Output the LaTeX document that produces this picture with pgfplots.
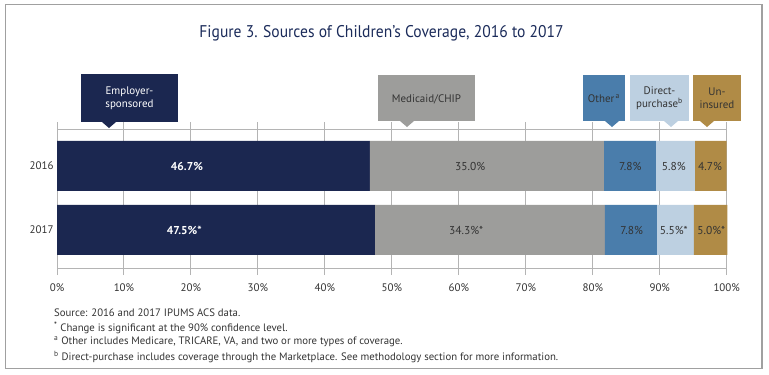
\documentclass[border=0pt]{standalone}
\usepackage{pgfplots}
\pgfplotsset{compat=1.18}
\usepackage{fontspec}
\setmainfont{PT Sans}
\usepackage{graphicx}
\definecolor{emp}{HTML}{1B2750}
\definecolor{med}{HTML}{9D9D9B}
\definecolor{oth}{HTML}{4A7DAB}
\definecolor{dir}{HTML}{BDD0E1}
\definecolor{unins}{HTML}{B08B46}
\definecolor{ttl}{HTML}{1B2B5A}
\definecolor{txt}{HTML}{333333}
\definecolor{gridc}{HTML}{B4B4B4}
\definecolor{framec}{HTML}{A0A0A0}
\pgfplotsset{
  seg/.style={xbar stacked, bar width=50bp, fill=#1, draw=none},
  lbl/.style={only marks, mark=none, nodes near coords, point meta=explicit symbolic,
  every node near coord/.style={anchor=center, text=#1, font=\fontsize{11.5}{13}\selectfont}}}
\begin{document}
\begin{tikzpicture}[x=1bp,y=1bp]
% page and frame
\path (0,0) rectangle (769,374);
\draw[framec, line width=1.2bp] (5.5,369.5) rectangle (762,5.5);
% title
\node[text=ttl, font=\fontsize{17}{20}\selectfont] at (381.5,341) {\scalebox{0.92}[1]{Figure 3. Sources of Children’s Coverage, 2016 to 2017}};
\begin{axis}[
  at={(57bp,106bp)}, anchor=south west,
  scale only axis, width=669.7bp, height=139bp,
  xmin=0, xmax=100, ymin=-0.578, ymax=1.594, y dir=reverse,
  ytick={0,1}, yticklabels={2016,2017},
  xtick={0,10,...,100},
  xticklabel={\pgfmathprintnumber{\tick}\%},
  /pgf/number format/assume math mode=true,
  xmajorgrids, major grid style={gridc, line width=1bp},
  axis line style={gridc, line width=1bp},
  xtick align=outside, major tick length=7bp,
  xtick style={gridc, line width=1bp},
  ytick style={draw=none},
  tick label style={font=\fontsize{11}{13}\selectfont, text=txt},
  xticklabel style={yshift=-5bp},
  clip=false,
]
\addplot[seg=emp] coordinates {(46.7,0) (47.5,1)};
\addplot[seg=med] coordinates {(35.0,0) (34.3,1)};
\addplot[seg=oth] coordinates {(7.8,0) (7.8,1)};
\addplot[seg=dir] coordinates {(5.8,0) (5.5,1)};
\addplot[seg=unins] coordinates {(4.7,0) (5.0,1)};
% value labels
\addplot[lbl=white, every node near coord/.append style={font=\fontsize{11.5}{13}\selectfont\bfseries}] coordinates {(19.4,0) [46.7\%] (19.0,1) [47.5\%*]};
\addplot[lbl=txt] coordinates {(61.7,0) [35.0\%] (61.1,1) [34.3\%*]};
\addplot[lbl=txt] coordinates {(85.6,0) [7.8\%] (85.8,1) [7.8\%]};
\addplot[lbl=txt] coordinates {(92.1,0) [5.8\%] (92.1,1) [5.5\%*]};
\addplot[lbl=txt] coordinates {(97.5,0) [4.7\%] (97.7,1) [5.0\%*]};
\end{axis}
% callout boxes
\fill[emp] (81,300) rectangle (178,252);
\fill[emp] (102,252) -- (116,252) -- (109,246) -- cycle;
\node[text=white, align=center, font=\fontsize{11}{13}\selectfont] at (129.5,276) {Employer-\\sponsored};
\fill[med] (378,299) rectangle (475,253);
\fill[med] (400,253) -- (414,253) -- (407,247) -- cycle;
\node[text=txt, font=\fontsize{11}{13}\selectfont] at (426.5,275) {Medicaid/CHIP};
\fill[oth] (583,299) rectangle (625,253);
\fill[oth] (605,253) -- (619,253) -- (612,247) -- cycle;
\node[text=txt, font=\fontsize{11}{13}\selectfont] at (604,275) {Other\textsuperscript{\,a}};
\fill[dir] (630,299) rectangle (689,253);
\fill[dir] (664,253) -- (678,253) -- (671,247) -- cycle;
\node[text=txt, align=center, font=\fontsize{11}{13}\selectfont] at (659.5,276) {Direct-\\purchase\textsuperscript{b}};
\fill[unins] (693,299) rectangle (741,253);
\fill[unins] (700,253) -- (714,253) -- (707,247) -- cycle;
\node[text=txt, align=center, font=\fontsize{11}{13}\selectfont] at (717,276) {Un-\\insured};
% footnotes
\begin{scope}[every node/.style={anchor=west, text=txt, font=\fontsize{10.8}{12}\selectfont, inner sep=0pt}]
\node at (54,61) {Source: 2016 and 2017 IPUMS ACS data.};
\node at (54,46) {\textsuperscript{\bfseries *} Change is significant at the 90\% confidence level.};
\node at (54,32) {\textsuperscript{a} Other includes Medicare, TRICARE, VA, and two or more types of coverage.};
\node at (54,17) {\textsuperscript{b} Direct-purchase includes coverage through the Marketplace. See methodology section for more information.};
\end{scope}
\end{tikzpicture}
\end{document}
